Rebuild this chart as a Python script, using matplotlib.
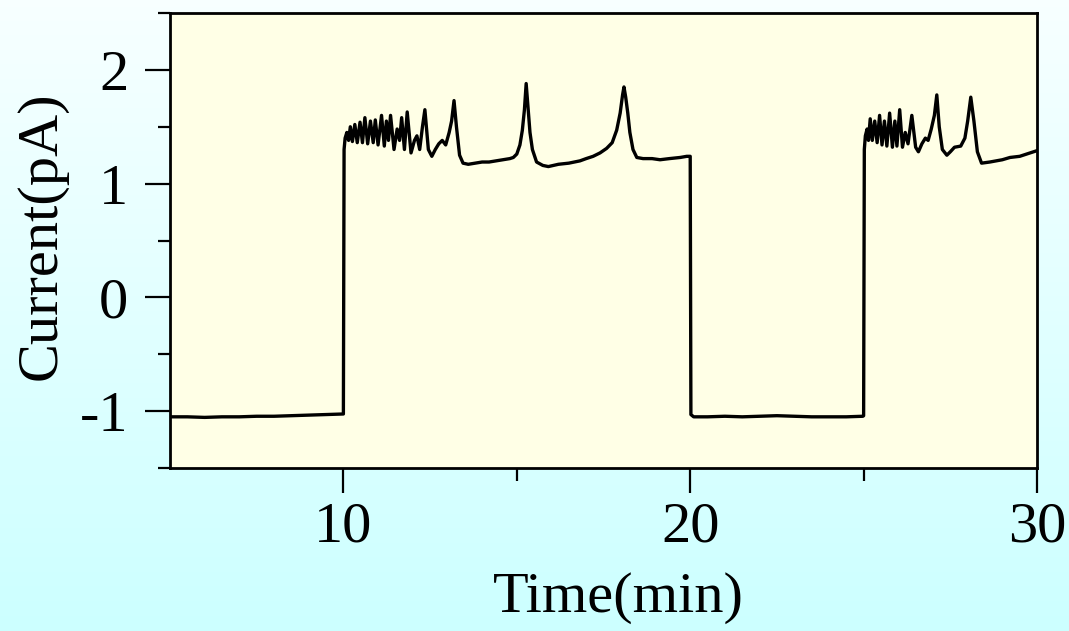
# ---------------------------------------------------------
# Current trace vs time, square steps with spike bursts
# ---------------------------------------------------------

import matplotlib.pyplot as plt
import numpy as np


######## ######## ######## ########
# DATA

# first low period + first high period (10 - 20 min)
time1 = [5.00, 5.5, 6.0, 6.5, 7.0, 7.5, 8.0, 8.5, 9.0, 9.5, 9.95, 10.00,
	10.02, 10.05, 10.10, 10.15, 10.20, 10.26, 10.33, 10.40, 10.48, 10.55,
	10.62, 10.70, 10.78, 10.86, 10.92, 11.00, 11.10, 11.18, 11.24, 11.30,
	11.36, 11.46, 11.55, 11.62, 11.68, 11.76, 11.84, 11.95, 12.05, 12.12,
	12.20, 12.28, 12.35, 12.45, 12.55, 12.65, 12.75, 12.85, 12.95, 13.05,
	13.12, 13.19, 13.26, 13.35, 13.45, 13.60, 13.80, 14.00, 14.20, 14.40,
	14.60, 14.80, 14.90, 15.00, 15.09, 15.16, 15.22, 15.27, 15.32, 15.38,
	15.45, 15.57, 15.75, 15.91, 16.20, 16.50, 16.82, 17.00, 17.20, 17.40,
	17.59, 17.75, 17.88, 17.98, 18.05, 18.09, 18.14, 18.20, 18.26, 18.35,
	18.46, 18.64, 18.90, 19.13, 19.40, 19.71, 19.90, 19.98]
curr1 = [-1.05, -1.05, -1.055, -1.05, -1.05, -1.045, -1.045, -1.04, -1.035, -1.03, -1.025, -1.025,
	1.30, 1.40, 1.45, 1.38, 1.50, 1.37, 1.52, 1.36, 1.54, 1.36,
	1.58, 1.35, 1.55, 1.36, 1.56, 1.34, 1.60, 1.33, 1.55, 1.38,
	1.60, 1.30, 1.48, 1.38, 1.58, 1.30, 1.63, 1.27, 1.38, 1.42,
	1.30, 1.50, 1.65, 1.30, 1.24, 1.30, 1.35, 1.38, 1.34, 1.45,
	1.55, 1.73, 1.50, 1.25, 1.18, 1.17, 1.18, 1.19, 1.19, 1.20,
	1.21, 1.22, 1.23, 1.26, 1.34, 1.47, 1.65, 1.88, 1.68, 1.45,
	1.30, 1.19, 1.16, 1.15, 1.17, 1.18, 1.20, 1.22, 1.24, 1.27,
	1.31, 1.36, 1.47, 1.62, 1.78, 1.85, 1.76, 1.62, 1.45, 1.30,
	1.23, 1.22, 1.22, 1.21, 1.22, 1.23, 1.24, 1.24]

# second low period (20 - 25 min)
time2 = [20.00, 20.02, 20.10, 20.50, 21.00, 21.50, 22.00, 22.50, 23.00, 23.50,
	24.00, 24.50, 24.98]
curr2 = [1.24, -1.03, -1.05, -1.05, -1.045, -1.05, -1.045, -1.04, -1.045, -1.05,
	-1.05, -1.05, -1.045]

# second high period (25 - 30 min)
time3 = [25.00, 25.02, 25.05, 25.10, 25.14, 25.19, 25.25, 25.32, 25.39, 25.46,
	25.53, 25.60, 25.67, 25.75, 25.83, 25.90, 25.96, 26.04, 26.12, 26.20,
	26.28, 26.39, 26.50, 26.58, 26.68, 26.78, 26.86, 26.95, 27.04, 27.11,
	27.18, 27.27, 27.40, 27.50, 27.62, 27.80, 27.92, 28.00, 28.09, 28.18,
	28.28, 28.40, 28.64, 29.00, 29.22, 29.50, 29.80, 30.00]
curr3 = [-1.04, 1.30, 1.42, 1.48, 1.38, 1.57, 1.38, 1.55, 1.36, 1.60,
	1.34, 1.55, 1.33, 1.62, 1.32, 1.55, 1.33, 1.65, 1.32, 1.45,
	1.35, 1.60, 1.32, 1.28, 1.35, 1.40, 1.38, 1.48, 1.60, 1.78,
	1.50, 1.30, 1.25, 1.28, 1.32, 1.33, 1.40, 1.55, 1.76, 1.55,
	1.28, 1.18, 1.19, 1.21, 1.23, 1.24, 1.27, 1.29]

xTicks = [10, 20, 30]
yTicks = [-1, 0, 1, 2]

######## ######## ######## ########


plt.rcParams['font.family'] = 'Liberation Serif'

fig = plt.figure(figsize=(10.69, 6.31), dpi=100)

# background gradient, white-ish at top -> light cyan at bottom
bg = fig.add_axes([0, 0, 1, 1], zorder=-10)
grad = np.linspace(0, 1, 256).reshape(-1, 1)
topCol = np.array([0.97, 1.0, 1.0])
botCol = np.array([0.80, 1.0, 1.0])
img = topCol + grad[:, :, None] * (botCol - topCol)
bg.imshow(img, aspect='auto', extent=[0, 1, 0, 1])
bg.axis('off')

ax = fig.add_axes([0.1590, 0.2583, 0.8111, 0.7211])
ax.set_facecolor('#FFFFE6')

tAll = time1 + time2 + time3
cAll = curr1 + curr2 + curr3
ax.plot(tAll, cAll, color='black', lw=2.4, solid_joinstyle='round')

ax.set_xlim(5, 30)
ax.set_ylim(-1.5, 2.5)
ax.set_xticks(xTicks)
ax.set_xticks([15, 25], minor=True)
ax.set_yticks(yTicks)
ax.set_yticklabels(['-1', '0', '1', '2'])
ax.set_yticks([-1.5, -0.5, 0.5, 1.5, 2.5], minor=True)

ax.tick_params(which='major', direction='out', length=18, width=1.6,
	labelsize=42, pad=6)
ax.tick_params(axis='y', which='major', pad=12)
ax.tick_params(which='minor', direction='out', length=9, width=1.6)

for sp in ax.spines.values() :
	sp.set_linewidth(2.0)

fig.text(618/1069., 1 - 598/631., 'Time(min)', fontsize=42, ha='center', va='center')
fig.text(42/1069., 1 - 236/631., 'Current(pA)', fontsize=42, ha='center',
	va='center', rotation=90)

fig.savefig('out.png', dpi=100)
